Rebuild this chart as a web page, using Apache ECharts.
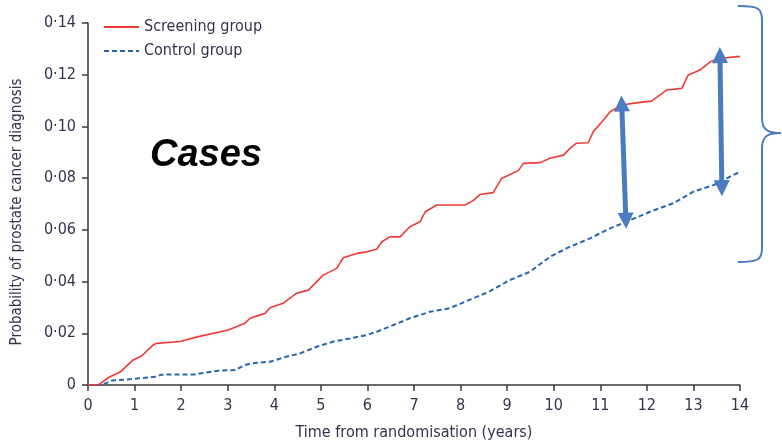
<!DOCTYPE html>
<html>
<head>
<meta charset="utf-8">
<script src="https://cdn.jsdelivr.net/npm/echarts@6/dist/echarts.min.js"></script>
<style>html,body{margin:0;padding:0;background:#fff}#c{width:782px;height:441px}</style>
</head>
<body>
<div id="c"></div>
<script>
var seriesNames = ['Screening group', 'Control group'];
var xTicks = [0,1,2,3,4,5,6,7,8,9,10,11,12,13,14];
var yTicks = [0,0.02,0.04,0.06,0.08,0.10,0.12,0.14];
var screening = [[0,0],[0.22,0],[0.3,0.001],[0.45,0.003],[0.69,0.005],[0.97,0.0097],[1.15,0.0112],[1.40,0.0155],[1.47,0.0161],[1.98,0.0168],[2.37,0.0187],[3.01,0.0213],[3.37,0.0239],[3.48,0.0258],[3.80,0.0277],[3.91,0.0299],[4.19,0.0316],[4.48,0.0355],[4.73,0.0367],[5.05,0.0425],[5.34,0.0451],[5.48,0.0492],[5.77,0.0509],[5.98,0.0515],[6.20,0.0525],[6.31,0.0554],[6.48,0.0573],[6.70,0.0573],[6.91,0.0612],[7.13,0.0631],[7.24,0.067],[7.49,0.0696],[8.10,0.0696],[8.27,0.0713],[8.42,0.0737],[8.70,0.0744],[8.88,0.0799],[9.24,0.0829],[9.35,0.0857],[9.71,0.086],[9.92,0.0877],[10.21,0.0889],[10.35,0.0915],[10.49,0.0935],[10.74,0.0937],[10.85,0.098],[11.07,0.1025],[11.21,0.1057],[11.46,0.1083],[11.85,0.1093],[12.10,0.1098],[12.43,0.1141],[12.75,0.1147],[12.89,0.1199],[13.14,0.1218],[13.36,0.125],[13.57,0.1263],[13.93,0.127],[14.0,0.127]];
var control = [[0,0],[0.3,0],[0.51,0.0017],[0.94,0.0023],[1.44,0.0032],[1.58,0.004],[2.30,0.0041],[2.79,0.0055],[3.16,0.0058],[3.37,0.0077],[3.51,0.0084],[3.91,0.009],[4.27,0.011],[4.55,0.0122],[4.91,0.0148],[5.27,0.0168],[5.63,0.018],[5.98,0.0193],[6.20,0.0206],[6.48,0.0226],[6.91,0.0258],[7.34,0.0283],[7.77,0.0297],[8.2,0.033],[8.6,0.036],[9.06,0.0406],[9.49,0.0438],[9.92,0.0496],[10.35,0.0535],[10.78,0.0567],[11.21,0.0606],[11.57,0.0632],[12.07,0.067],[12.57,0.0703],[13.0,0.0748],[13.43,0.0773],[13.79,0.0806],[13.96,0.0821]];
// difference arrows: [x_top, y_top, x_bottom, y_bottom]
var arrows = [[11.46,0.1089,11.55,0.0635],[13.57,0.1276,13.61,0.0761]];

var FONT = '"DejaVu Sans Condensed","Liberation Sans",sans-serif';
var TXT = '#33334d';
var AX = '#3a3a3a';
var BLUE_ANN = '#4a7cbf';

var chart = echarts.init(document.getElementById('c'), null, {renderer:'canvas'});
var braceStyle = {fill: 'none', stroke: BLUE_ANN, lineWidth: 2};
var option = {
  animation: false,
  backgroundColor: '#fff',
  grid: {left: 88, right: 42, top: 23, bottom: 56, containLabel: false, outerBoundsMode: 'none'},
  legend: {
    data: seriesNames,
    orient: 'vertical',
    left: 98, top: 14,
    itemWidth: 35, itemHeight: 12, itemGap: 8,
    itemStyle: {opacity: 0},
    textStyle: {fontFamily: FONT, fontSize: 16, color: TXT}
  },
  xAxis: {
    type: 'value', min: 0, max: 14, interval: 1,
    name: 'Time from randomisation (years)', nameLocation: 'middle', nameGap: 40,
    nameTextStyle: {fontFamily: FONT, fontSize: 16, color: TXT},
    axisLine: {show: true, lineStyle: {color: AX, width: 1.5}},
    axisTick: {show: true, length: 6, lineStyle: {color: AX, width: 1.5}},
    axisLabel: {fontFamily: FONT, fontSize: 16, color: TXT, margin: 13,
      formatter: function(v){ return xTicks.indexOf(v) >= 0 ? String(v) : ''; }},
    splitLine: {show: false}
  },
  yAxis: {
    type: 'value', min: 0, max: 0.14, interval: 0.02,
    name: 'Probability of prostate cancer diagnosis', nameLocation: 'middle', nameGap: 63,
    nameTextStyle: {fontFamily: FONT, fontSize: 15, color: TXT, padding: [0, 16, 0, 0]},
    axisLine: {show: true, lineStyle: {color: AX, width: 1.5}},
    axisTick: {show: true, length: 6, lineStyle: {color: AX, width: 1.5}},
    axisLabel: {fontFamily: FONT, fontSize: 16, color: TXT, margin: 12,
      formatter: function(v){
        var t = yTicks.find(function(y){ return Math.abs(y - v) < 1e-9; });
        if (t === undefined) return '';
        return t === 0 ? '0' : t.toFixed(2).replace('.', '\u00b7');
      }},
    splitLine: {show: false}
  },
  series: [
    {
      name: seriesNames[0], type: 'line', data: screening, symbol: 'none',
      lineStyle: {color: '#ee3b36', width: 1.6}, itemStyle: {color: '#ee3b36'}, z: 3,
      markLine: {
        silent: true, symbol: ['triangle','triangle'], symbolSize: [16, 16],
        label: {show: false},
        lineStyle: {color: BLUE_ANN, width: 5, type: 'solid', opacity: 1},
        itemStyle: {opacity: 1, color: BLUE_ANN},
        data: arrows.map(function(a){ return [{coord:[a[0],a[1]]},{coord:[a[2],a[3]]}]; })
      }
    },
    {
      name: seriesNames[1], type: 'line', data: control, symbol: 'none',
      lineStyle: {color: '#2a66b0', width: 2, type: [5, 3]}, itemStyle: {color: '#2a66b0'}, z: 2
    }
  ],
  graphic: [
    {type: 'text', x: 150, y: 137, style: {text: 'Cases', fontFamily: '"Liberation Sans","Open Sans",sans-serif', fontWeight: 'bold', fontStyle: 'italic', fontSize: 38, fill: '#000'}},
    {type: 'bezierCurve', shape: {x1:738,y1:6,cpx1:758,cpy1:6,cpx2:762,cpy2:8,x2:762,y2:20}, style: braceStyle},
    {type: 'line', shape: {x1:762,y1:20,x2:762,y2:118}, style: braceStyle},
    {type: 'bezierCurve', shape: {x1:762,y1:118,cpx1:762,cpy1:130,cpx2:768,cpy2:133,x2:781,y2:133}, style: braceStyle},
    {type: 'bezierCurve', shape: {x1:781,y1:133,cpx1:768,cpy1:133,cpx2:762,cpy2:136,x2:762,y2:148}, style: braceStyle},
    {type: 'line', shape: {x1:762,y1:148,x2:762,y2:248}, style: braceStyle},
    {type: 'bezierCurve', shape: {x1:762,y1:248,cpx1:762,cpy1:260,cpx2:758,cpy2:262,x2:738,y2:262}, style: braceStyle}
  ]
};
chart.setOption(option);
</script>
</body>
</html>
